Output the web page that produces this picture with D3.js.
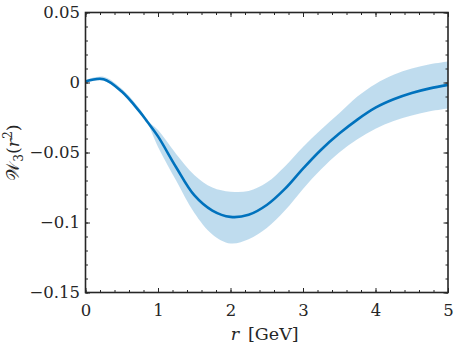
<!DOCTYPE html>
<html>
<head>
<meta charset="utf-8">
<script src="https://cdn.jsdelivr.net/npm/d3@7"></script>
<style>
  html, body { margin: 0; padding: 0; background: #fff; }
</style>
</head>
<body>
<svg id="chart" width="454" height="350"></svg>
<script>
const SERIF = '"DejaVu Serif", "Liberation Serif", serif';

// r values (GeV) and the three curves
const rValues = [0, 0.25, 0.5, 0.75, 0.85, 1.0, 1.25, 1.5, 1.75, 2.0, 2.25, 2.5, 2.75,
                 3.0, 3.25, 3.5, 3.75, 4.0, 4.25, 4.5, 4.75, 5.0];
const centralValues = [0.0008, 0.0024, -0.0065, -0.021, -0.0278, -0.0385, -0.0605, -0.0805,
                       -0.0915, -0.0960, -0.0945, -0.0875, -0.0760, -0.0615, -0.0480, -0.0365,
                       -0.0265, -0.0180, -0.0120, -0.0075, -0.0042, -0.0017];
const upperValues = [0.0018, 0.0041, -0.0045, -0.019, -0.0270, -0.0340, -0.0510, -0.0660,
                     -0.0750, -0.0780, -0.0775, -0.0715, -0.0600, -0.0460, -0.0335, -0.0220,
                     -0.0100, -0.0010, 0.0055, 0.0100, 0.0130, 0.0150];
const lowerValues = [0.0000, 0.0012, -0.0075, -0.0222, -0.0286, -0.0460, -0.0700, -0.0930,
                     -0.1085, -0.1150, -0.1120, -0.1040, -0.0915, -0.0760, -0.0620, -0.0500,
                     -0.0405, -0.0330, -0.0275, -0.0235, -0.0205, -0.0185];

// ticks
const xTicks = [0, 1, 2, 3, 4, 5];
const xTickLabels = ['0', '1', '2', '3', '4', '5'];
const yTicks = [0.05, 0, -0.05, -0.1, -0.15];
const yTickLabels = ['0.05', '0', '\u22120.05', '\u22120.1', '\u22120.15'];

const margin = { left: 85.5, right: 6, top: 12.5, bottom: 57.5 };
const width = 454, height = 350;
const svg = d3.select('#chart');

const x = d3.scaleLinear().domain([0, 5]).range([margin.left, width - margin.right]);
const y = d3.scaleLinear().domain([-0.15, 0.05]).range([height - margin.bottom, margin.top]);

const rows = rValues.map((r, i) => ({
    r, c: centralValues[i], hi: upperValues[i], lo: lowerValues[i]
}));

// error band
const band = d3.area()
    .x(d => x(d.r))
    .y0(d => y(d.lo))
    .y1(d => y(d.hi))
    .curve(d3.curveCatmullRom);

svg.append('path')
    .datum(rows)
    .attr('d', band)
    .attr('fill', '#0072BD')
    .attr('fill-opacity', 0.25);

// central line
const line = d3.line()
    .x(d => x(d.r))
    .y(d => y(d.c))
    .curve(d3.curveCatmullRom);

svg.append('path')
    .datum(rows)
    .attr('d', line)
    .attr('fill', 'none')
    .attr('stroke', '#0072BD')
    .attr('stroke-width', 2.6);

// minor + major ticks, all pointing inward, on four sides
const minorX = d3.range(0, 5.0001, 0.2);
const minorY = d3.range(-0.15, 0.05001, 0.01);
const x0 = x.range()[0], x1 = x.range()[1];
const y0 = y.range()[0], y1 = y.range()[1];

function tickGroup(axis, tx, ty) {
    const g = svg.append('g')
        .attr('transform', `translate(${tx},${ty})`)
        .call(axis)
        .attr('font-family', SERIF)
        .attr('font-size', 16.5);
    g.select('.domain').remove();
    g.selectAll('line').attr('stroke', '#262626').attr('stroke-width', 1);
    g.selectAll('text').attr('fill', '#262626');
    return g;
}

// bottom
tickGroup(d3.axisBottom(x).tickValues(minorX).tickSize(-2.5).tickFormat(''), 0, y0);
const xb = tickGroup(d3.axisBottom(x).tickValues(xTicks).tickSize(-4.5)
    .tickFormat((d, i) => xTickLabels[i]), 0, y0);
xb.selectAll('text').attr('y', 23.5).attr('dy', 0);
// top
tickGroup(d3.axisTop(x).tickValues(minorX).tickSize(-2.5).tickFormat(''), 0, y1);
tickGroup(d3.axisTop(x).tickValues(xTicks).tickSize(-4.5).tickFormat(''), 0, y1);
// left
tickGroup(d3.axisLeft(y).tickValues(minorY).tickSize(-2.5).tickFormat(''), x0, 0);
tickGroup(d3.axisLeft(y).tickValues(yTicks).tickSize(-4.5)
    .tickPadding(5.5).tickFormat((d, i) => yTickLabels[i]), x0, 0);
// right
tickGroup(d3.axisRight(y).tickValues(minorY).tickSize(-2.5).tickFormat(''), x1, 0);
tickGroup(d3.axisRight(y).tickValues(yTicks).tickSize(-4.5).tickFormat(''), x1, 0);

// axes box
svg.append('rect')
    .attr('x', x0).attr('y', y1)
    .attr('width', x1 - x0).attr('height', y0 - y1)
    .attr('fill', 'none')
    .attr('stroke', '#262626')
    .attr('stroke-width', 1.6);

// x label
const xl = svg.append('text')
    .attr('x', (x0 + x1) / 2 - 2)
    .attr('y', 340)
    .attr('text-anchor', 'middle')
    .attr('fill', '#262626')
    .attr('font-family', SERIF)
    .attr('font-size', 17.5);
xl.append('tspan').attr('font-style', 'italic').text('r');
xl.append('tspan').text('\u2002[GeV]');

// y label
const ylab = svg.append('text')
    .attr('transform', `translate(19,${(y0 + y1) / 2}) rotate(-90)`)
    .attr('text-anchor', 'middle')
    .attr('fill', '#262626')
    .attr('font-family', SERIF)
    .attr('font-size', 17.5);
ylab.append('tspan').text('\uD835\uDCB2');
ylab.append('tspan').attr('font-size', 12).attr('dy', 4).text('3');
ylab.append('tspan').attr('dy', -4).text('(');
ylab.append('tspan').attr('font-style', 'italic').text('r');
ylab.append('tspan').attr('font-size', 12).attr('dy', -7).text('2');
ylab.append('tspan').attr('dy', 7).text(')');
</script>
</body>
</html>
